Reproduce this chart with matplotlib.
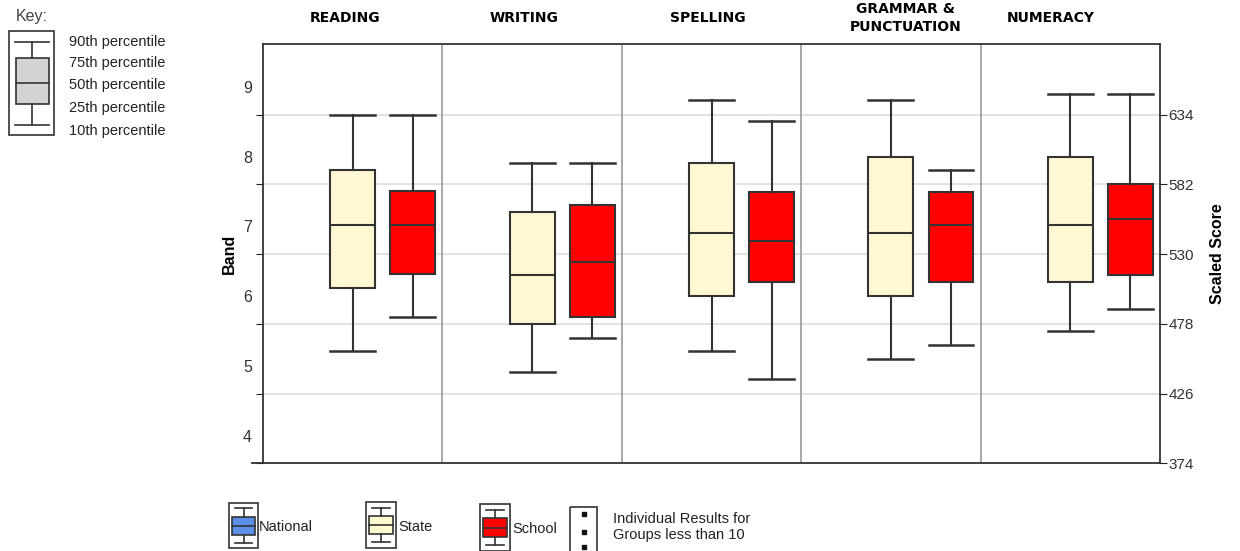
import matplotlib
matplotlib.use('Agg')
import matplotlib.pyplot as plt
from matplotlib.patches import Rectangle

plt.rcParams['font.family'] = ['Liberation Sans', 'DejaVu Sans']

# scaled score percentiles
subjects = ['READING', 'WRITING', 'SPELLING', 'GRAMMAR &\nPUNCTUATION', 'NUMERACY']
state_p10 = [458, 442, 458, 452, 473]
state_p25 = [504.5, 478, 498.7, 498.7, 509]
state_p50 = [551.4, 514.4, 545.5, 545.5, 551.4]
state_p75 = [592.7, 561.3, 598.1, 602.6, 602.6]
state_p90 = [634, 598, 645, 645, 649]
school_p10 = [483, 467.6, 436.6, 462, 489]
school_p25 = [515, 483.3, 509, 509, 514.6]
school_p50 = [551.4, 524.3, 540, 551.4, 556]
school_p75 = [577, 566.6, 576.5, 576.5, 582.2]
school_p90 = [634, 598, 629, 592.7, 649.3]

score_ticks = [374, 426, 478, 530, 582, 634]
bands = [4, 5, 6, 7, 8, 9]
band_centres = [393.5, 445.5, 497.5, 549.5, 601.5, 653.5]

STATE_COL = '#fff8d2'
SCHOOL_COL = '#ff0000'
EDGE = '#333333'


def stats(p10, p25, p50, p75, p90):
    out = []
    for a, b, c, d, e in zip(p10, p25, p50, p75, p90):
        out.append({'whislo': a, 'q1': b, 'med': c, 'q3': d, 'whishi': e, 'fliers': []})
    return out


fig = plt.figure(figsize=(12.4, 5.51), dpi=100)
ax = fig.add_axes([263 / 1240, 1 - 463.3 / 551, (1160 - 263) / 1240, (463.3 - 44.3) / 551])

n = len(subjects)
for col, data, off in [(STATE_COL, stats(state_p10, state_p25, state_p50, state_p75, state_p90), 0.5),
                       (SCHOOL_COL, stats(school_p10, school_p25, school_p50, school_p75, school_p90), 0.835)]:
    pos = [i + off for i in range(n)]
    ax.bxp(data, positions=pos, widths=0.25, capwidths=0.25, patch_artist=True,
           showfliers=False, manage_ticks=False,
           boxprops=dict(facecolor=col, edgecolor=EDGE, linewidth=1.5),
           medianprops=dict(color=EDGE, linewidth=1.5),
           whiskerprops=dict(color=EDGE, linewidth=1.5),
           capprops=dict(color=EDGE, linewidth=1.8))

ax.set_xlim(0, n)
ax.set_ylim(374, 686.4)
for y in score_ticks[1:]:
    ax.axhline(y, color='#dddddd', lw=1.2, zorder=0)
for i in range(1, n):
    ax.axvline(i, color='#999999', lw=1.2, zorder=0)

ax.set_xticks([])
ax.set_yticks(score_ticks)
ax.set_yticklabels([])
ax.tick_params(axis='y', direction='out', length=5, color='#222222')
for s in ax.spines.values():
    s.set_color('#333333')
    s.set_linewidth(1.3)
ax.spines['bottom'].set_visible(False)
ax.axhline(374, color='#333333', lw=1.3, xmin=-0.012, clip_on=False)

for b, yc in zip(bands, band_centres):
    ax.annotate(str(b), xy=(0, yc), xycoords=('axes fraction', 'data'), xytext=(-8, 0),
                textcoords='offset points', ha='right', va='center', fontsize=11.5, color='#333333')
ax.set_ylabel('Band', fontsize=11.5, fontweight='bold', labelpad=10)

ax2 = ax.twinx()
ax2.set_ylim(ax.get_ylim())
ax2.set_yticks(score_ticks)
ax2.set_yticklabels([str(t) for t in score_ticks], fontsize=11, color='#333333')
ax2.tick_params(axis='y', direction='out', length=5, color='#222222', pad=1)
ax2.set_ylabel('Scaled Score', fontsize=11.5, fontweight='bold', labelpad=12)
for s in ax2.spines.values():
    s.set_visible(False)

title_x = [0.46, 1.455, 2.48, 3.58, 4.39]
for t, xc in zip(subjects, title_x):
    ax.text(xc, 1.063, t, transform=ax.get_xaxis_transform(), ha='center', va='center',
            fontsize=10, fontweight='bold', family=['Liberation Sans Narrow', 'DejaVu Sans'],
            linespacing=1.35, clip_on=False)

# key and legend, drawn in figure pixels
ov = fig.add_axes([0, 0, 1, 1])
ov.set_xlim(0, 1240)
ov.set_ylim(551, 0)
ov.axis('off')


def icon(x0, y0, w, h, fill, lw=1.2):
    ov.add_patch(Rectangle((x0, y0), w, h, fill=False, ec='#333333', lw=lw))
    cx = x0 + w / 2
    bw = w * 0.8
    t, b = y0 + h * 0.12, y0 + h * 0.88
    q3, q1 = y0 + h * 0.3, y0 + h * 0.7
    ov.plot([cx - w * 0.3, cx + w * 0.3], [t, t], color='#333333', lw=lw)
    ov.plot([cx - w * 0.3, cx + w * 0.3], [b, b], color='#333333', lw=lw)
    ov.plot([cx, cx], [t, q3], color='#333333', lw=lw)
    ov.plot([cx, cx], [q1, b], color='#333333', lw=lw)
    ov.add_patch(Rectangle((cx - bw / 2, q3), bw, q1 - q3, fc=fill, ec='#333333', lw=lw))
    ov.plot([cx - bw / 2, cx + bw / 2], [(q1 + q3) / 2] * 2, color='#333333', lw=lw)


ov.text(16, 17, 'Key:', fontsize=11.5, color='#444444', va='center', ha='left')
ov.add_patch(Rectangle((9, 31), 45, 104, fill=False, ec='#333333', lw=1.2))
ov.plot([15, 49], [42, 42], color='#333333', lw=1.2)
ov.plot([15, 49], [125, 125], color='#333333', lw=1.2)
ov.plot([32, 32], [42, 58], color='#333333', lw=1.2)
ov.plot([32, 32], [104, 125], color='#333333', lw=1.2)
ov.add_patch(Rectangle((16, 58), 33, 46, fc='#d3d3d3', ec='#333333', lw=1.2))
ov.plot([16, 49], [83, 83], color='#333333', lw=1.2)
for lab, y in zip(['90th percentile', '75th percentile', '50th percentile', '25th percentile', '10th percentile'],
                  [42, 63, 85, 108, 131]):
    ov.text(69, y, lab, fontsize=10.5, color='#222222', va='center', ha='left')

icon(229, 503, 29, 45, '#5b8fe8')
ov.text(259, 527, 'National', fontsize=10.5, va='center', ha='left', color='#222222')
icon(366, 502, 30, 46, '#fffbd0')
ov.text(398, 527, 'State', fontsize=10.5, va='center', ha='left', color='#222222')
icon(480, 504, 30, 47, SCHOOL_COL)
ov.text(512, 529, 'School', fontsize=10.5, va='center', ha='left', color='#222222')
ov.add_patch(Rectangle((570, 507), 27, 48, fill=False, ec='#333333', lw=1.2))
ov.plot([584, 584, 584], [514, 532, 547], ls='none', marker='s', ms=2.5, color='#111111')
ov.text(613, 527, 'Individual Results for\nGroups less than 10', fontsize=10.5, va='center', ha='left',
        color='#222222', linespacing=1.2)

fig.savefig('out.png', dpi=100)
